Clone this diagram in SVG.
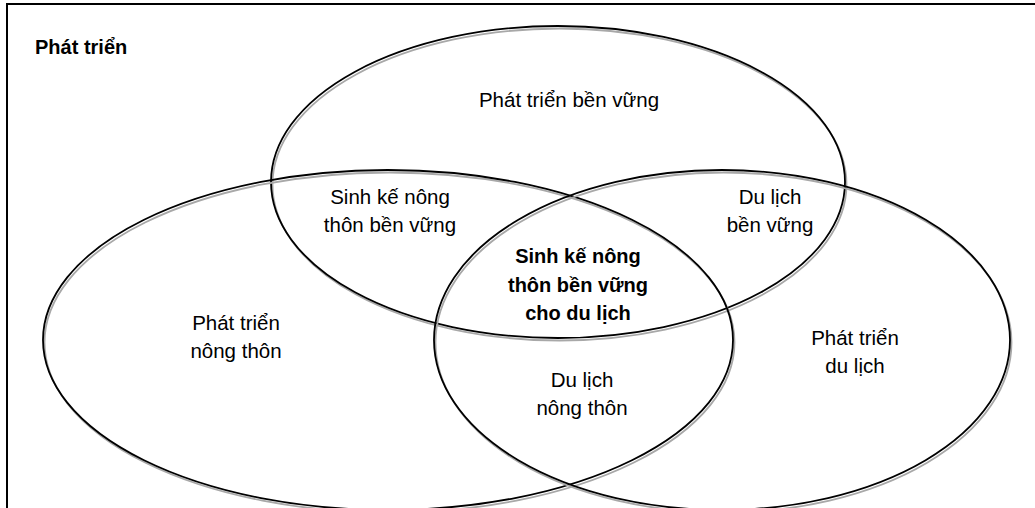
<svg xmlns="http://www.w3.org/2000/svg" width="1035" height="508" viewBox="0 0 1035 508">
<style>
.frame{fill:none;stroke:#000;stroke-width:2}
.sh{fill:none;stroke:#a8a8a8;stroke-width:1.8}
.el{fill:none;stroke:#000;stroke-width:1.8}
text{font-family:"Liberation Sans",Arial,sans-serif;font-size:20.5px;fill:#000;text-anchor:middle}
.b{font-weight:bold;font-size:20px}
</style>
<rect width="1035" height="508" fill="#fff"/>
<g id="frame">
<path class="frame" d="M7,510 V4 H1036"/>
<text class="b" x="35" y="54" style="text-anchor:start">Phát triển</text>
</g>
<g id="circle-sustainable">
<ellipse class="sh" cx="559.5" cy="184.5" rx="287" ry="156"/>
<ellipse class="el" cx="558" cy="182" rx="287" ry="156"/>
<text x="569" y="107">Phát triển bền vững</text>
</g>
<g id="circle-rural">
<ellipse class="sh" cx="389.5" cy="342.5" rx="345" ry="170"/>
<ellipse class="el" cx="388" cy="340" rx="345" ry="170"/>
<text x="236" y="330">Phát triển</text>
<text x="236" y="358">nông thôn</text>
</g>
<g id="circle-tourism">
<ellipse class="sh" cx="723.5" cy="342.5" rx="288" ry="170"/>
<ellipse class="el" cx="722" cy="340" rx="288" ry="170"/>
<text x="855" y="345">Phát triển</text>
<text x="855" y="373">du lịch</text>
</g>
<g id="lens-livelihood">
<text x="390" y="204">Sinh kế nông</text>
<text x="390" y="232">thôn bền vững</text>
</g>
<g id="lens-sustainable-tourism">
<text x="770" y="204">Du lịch</text>
<text x="770" y="232">bền vững</text>
</g>
<g id="lens-rural-tourism">
<text x="582" y="387">Du lịch</text>
<text x="582" y="415">nông thôn</text>
</g>
<g id="center">
<text class="b" x="578" y="263">Sinh kế nông</text>
<text class="b" x="578" y="292">thôn bền vững</text>
<text class="b" x="578" y="320">cho du lịch</text>
</g>
</svg>
